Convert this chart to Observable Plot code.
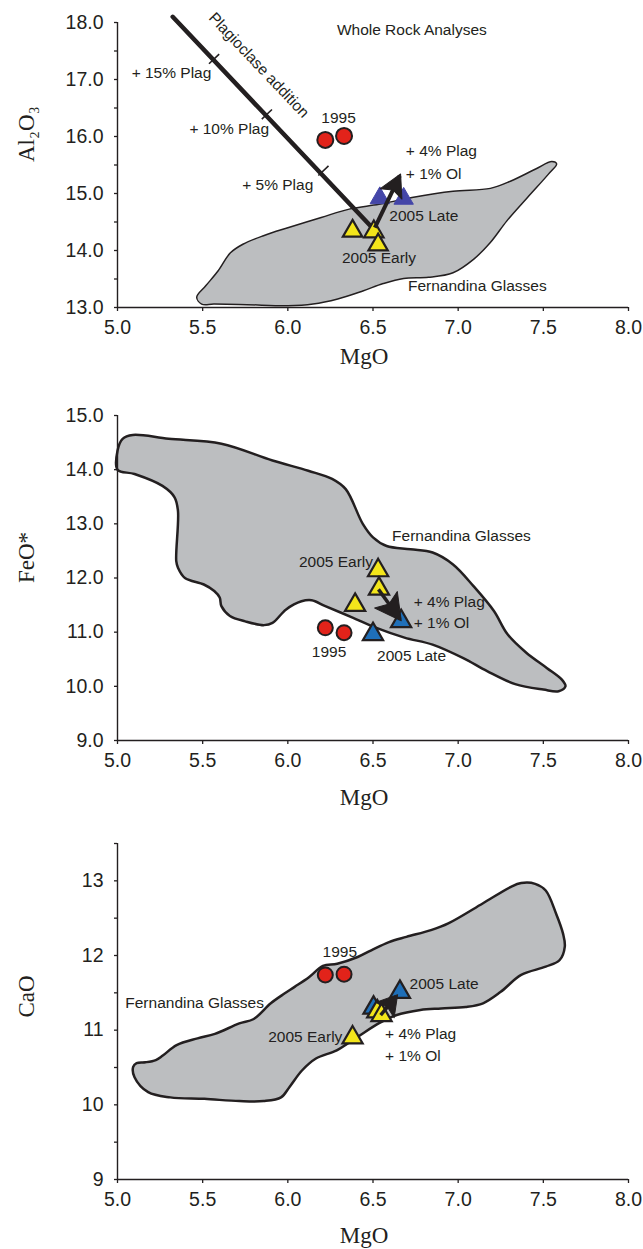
<!DOCTYPE html>
<html><head><meta charset="utf-8">
<script src="https://cdn.jsdelivr.net/npm/d3@7"></script>
<script src="https://cdn.jsdelivr.net/npm/@observablehq/plot@0.6"></script>
<style>
  html,body{margin:0;padding:0;background:#fff}
  #chart svg{display:block}
</style>
</head><body><div id="chart"></div>
<script>
// ---------- data ----------
const mgoTicks = [5.0, 5.5, 6.0, 6.5, 7.0, 7.5, 8.0];
const al2o3Ticks = [13, 13.5, 14, 14.5, 15, 15.5, 16, 16.5, 17, 17.5, 18];
const feoTicks = [9, 10, 11, 12, 13, 14, 15];
const caoTicks = [9, 9.5, 10, 10.5, 11, 11.5, 12, 12.5, 13, 13.5];

// 1995 whole rock (red circles)
const mgo1995 = [6.22, 6.33];
const al1995 = [15.94, 16.01];
const feo1995 = [11.08, 10.99];
const cao1995 = [11.74, 11.75];

// 2005 Early (yellow triangles)
const mgoEarlyAl = [6.38, 6.505, 6.53];
const alEarly = [14.34, 14.33, 14.10];
const mgoEarlyFe = [6.395, 6.53, 6.535];
const feoEarly = [11.50, 12.14, 11.80];
const mgoEarlyCa = [6.38, 6.525, 6.55];
const caoEarly = [10.90, 11.25, 11.20];

// 2005 Late (blue triangles)
const mgoLateAl = [6.54, 6.68];
const alLate = [14.92, 14.91];
const mgoLateFe = [6.50, 6.665];
const feoLate = [10.96, 11.20];
const mgoLateCa = [6.503, 6.658];
const caoLate = [11.30, 11.51];

// "+4% Plag +1% Ol" vectors: [mgo start, oxide start, mgo end, oxide end]
const vecAl = [6.511, 14.40, 6.657, 15.31];
const vecFe = [6.532, 11.79, 6.659, 11.24];
const vecCa = [6.545, 11.20, 6.637, 11.455];

// Plagioclase addition line and its 5/10/15% marks
const plagLine = [[5.324, 18.10], [6.511, 14.35]];
const plagMarks = [[5.567, 17.36], [5.877, 16.39], [6.209, 15.40]];

// Fernandina glasses fields
const glassAl = [[5.494,13.06],[5.465,13.18],[5.518,13.38],[5.59,13.64],[5.663,13.96],[5.736,14.11],[5.857,14.26],[6.00,14.40],[6.196,14.58],[6.366,14.73],[6.535,14.81],[6.729,14.93],[6.97,15.04],[7.189,15.09],[7.31,15.22],[7.455,15.43],[7.55,15.56],[7.578,15.52],[7.53,15.34],[7.407,14.93],[7.286,14.52],[7.189,14.14],[7.092,13.85],[6.97,13.61],[6.826,13.53],[6.68,13.51],[6.56,13.42],[6.44,13.29],[6.293,13.15],[6.148,13.06],[6.0,13.03],[5.76,13.05],[5.567,13.06]];
const glassFe = [[5.0,14.0],[5.10,13.92],[5.264,13.70],[5.335,13.49],[5.355,13.24],[5.345,12.31],[5.355,12.19],[5.396,12.0],[5.507,11.88],[5.568,11.76],[5.60,11.64],[5.61,11.48],[5.66,11.30],[5.75,11.20],[5.86,11.13],[5.91,11.17],[5.99,11.42],[6.08,11.57],[6.14,11.59],[6.22,11.48],[6.38,11.27],[6.52,11.08],[6.685,10.90],[6.85,10.77],[7.03,10.52],[7.17,10.28],[7.335,10.04],[7.50,9.94],[7.59,9.91],[7.63,10.0],[7.61,10.12],[7.52,10.34],[7.40,10.62],[7.29,10.96],[7.21,11.39],[7.09,11.85],[6.97,12.25],[6.85,12.47],[6.72,12.53],[6.58,12.59],[6.50,12.75],[6.44,13.0],[6.34,13.64],[6.26,13.83],[6.12,13.98],[5.91,14.17],[5.61,14.48],[5.30,14.57],[5.09,14.64],[5.03,14.57],[5.0,14.35]];
const glassCa = [[5.092,10.51],[5.10,10.37],[5.18,10.17],[5.31,10.10],[5.51,10.08],[5.715,10.05],[5.858,10.05],[5.96,10.10],[6.01,10.24],[6.083,10.46],[6.165,10.62],[6.287,10.73],[6.41,10.91],[6.533,11.09],[6.635,11.20],[6.778,11.27],[6.90,11.29],[7.044,11.31],[7.146,11.36],[7.248,11.51],[7.37,11.74],[7.514,11.85],[7.596,11.94],[7.626,12.12],[7.616,12.29],[7.575,12.56],[7.514,12.87],[7.452,12.96],[7.37,12.97],[7.31,12.92],[7.146,12.70],[6.942,12.43],[6.84,12.34],[6.696,12.25],[6.594,12.18],[6.49,12.07],[6.41,11.98],[6.29,11.89],[6.206,11.86],[6.124,11.71],[6.04,11.58],[5.98,11.49],[5.90,11.36],[5.80,11.15],[5.715,11.09],[5.572,10.95],[5.47,10.89],[5.347,10.80],[5.266,10.66],[5.225,10.60],[5.164,10.57],[5.112,10.56]];

// annotations: [text, mgo, oxide, anchor]
const notesAl = [
  ["Whole Rock Analyses", 6.728, 17.87, "middle"],
  ["+ 15% Plag", 5.083, 17.12, "start"],
  ["+ 10% Plag", 5.422, 16.13, "start"],
  ["+ 5% Plag", 5.732, 15.14, "start"],
  ["1995", 6.298, 16.32, "middle"],
  ["+ 4% Plag", 6.693, 15.74, "start"],
  ["+ 1% Ol", 6.693, 15.35, "start"],
  ["2005 Late", 6.596, 14.61, "start"],
  ["2005 Early", 6.535, 13.86, "middle"],
  ["Fernandina Glasses", 6.705, 13.37, "start"]
];
const notesFe = [
  ["Fernandina Glasses", 6.612, 12.77, "start"],
  ["2005 Early", 6.50, 12.30, "end"],
  ["+ 4% Plag", 6.739, 11.56, "start"],
  ["+ 1% Ol", 6.739, 11.17, "start"],
  ["1995", 6.242, 10.64, "middle"],
  ["2005 Late", 6.524, 10.56, "start"]
];
const notesCa = [
  ["1995", 6.305, 12.05, "middle"],
  ["Fernandina Glasses", 5.86, 11.36, "end"],
  ["2005 Late", 6.715, 11.615, "start"],
  ["2005 Early", 6.32, 10.91, "end"],
  ["+ 4% Plag", 6.571, 10.945, "start"],
  ["+ 1% Ol", 6.571, 10.65, "start"]
];

// ---------- drawing ----------
const ink = "#231f20";
const sans = "'Liberation Sans', Arial, Helvetica, sans-serif";
const serif = "'Liberation Serif', 'Times New Roman', 'DejaVu Serif', serif";
const gray = "#bcbec0", red = "#e2231a", yellow = "#f3e51b", blue = "#1f6fb8", violet = "#4446a8";
const W = 643, mL = 117, mR = 15;
const kx = (W - mL - mR) / 3;

function dart(len, half) {
  return (color, context) => {
    const doc = (context && context.document) || document;
    const ns = "http://www.w3.org/2000/svg";
    const m = doc.createElementNS(ns, "marker");
    m.setAttribute("viewBox", `${-len} ${-half} ${len + 2} ${2 * half}`);
    m.setAttribute("markerUnits", "userSpaceOnUse");
    m.setAttribute("markerWidth", len + 2);
    m.setAttribute("markerHeight", 2 * half);
    m.setAttribute("refX", -2);
    m.setAttribute("refY", 0);
    m.setAttribute("orient", "auto");
    m.setAttribute("overflow", "visible");
    const p = doc.createElementNS(ns, "path");
    p.setAttribute("d", `M0,0L${-len},${-half}L${-0.8 * len},0L${-len},${half}Z`);
    p.setAttribute("fill", ink);
    p.setAttribute("stroke", ink);
    p.setAttribute("stroke-width", 1);
    p.setAttribute("stroke-linejoin", "round");
    m.appendChild(p);
    return m;
  };
}

const zip = (xs, ys) => xs.map((x, i) => ({x, y: ys[i]}));
const pts = (arr) => arr.map(([x, y]) => ({x, y}));

function notes(list, size = 15.5) {
  const rows = list.map(([label, x, y, anchor]) => ({label, x, y, anchor}));
  return ["start", "middle", "end"].map(a =>
    Plot.text(rows.filter(r => r.anchor === a), {
      x: "x", y: "y", text: "label", textAnchor: a, lineAnchor: "middle",
      fontFamily: sans, fontSize: size, fill: ink
    }));
}

function vector(v, len, half, sw) {
  return Plot.link([{x1: v[0], y1: v[1], x2: v[2], y2: v[3]}], {
    x1: "x1", y1: "y1", x2: "x2", y2: "y2",
    stroke: ink, strokeWidth: sw, strokeLinecap: "butt", markerEnd: dart(len, half)
  });
}

function panel({height, marginTop, marginBottom, yDomain, yTicks, yFormat, yTitle, titleDy, xTitleDy, marks}) {
  return Plot.plot({
    width: W, height, marginLeft: mL, marginRight: mR, marginTop, marginBottom,
    style: {fontFamily: sans, fontSize: "19.5px", color: ink, background: "#fff", overflow: "visible"},
    x: {domain: [5, 8]},
    y: {domain: yDomain},
    marks: [
      ...marks,
      Plot.ruleX([5], {y1: yDomain[0], y2: yDomain[1], stroke: ink, strokeWidth: 1.4}),
      Plot.ruleY([yDomain[0]], {x1: 5, x2: 8, stroke: ink, strokeWidth: 1.4}),
      Plot.axisX({ticks: mgoTicks, tickFormat: d => d.toFixed(1), tickSize: 4, tickPadding: 9, label: null, stroke: ink, strokeWidth: 1.3}),
      Plot.axisY({ticks: yTicks, tickFormat: yFormat, tickSize: 3, tickPadding: 11, label: null, stroke: ink, strokeWidth: 1.3}),
      Plot.text(["MgO"], {text: d => d, frameAnchor: "bottom", dy: xTitleDy, dx: -9, lineAnchor: "bottom", fontFamily: serif, fontSize: 23, fill: ink}),
      Plot.text([yTitle], {text: d => d, frameAnchor: "left", dx: -84, dy: titleDy, rotate: -90, lineAnchor: "bottom", fontFamily: serif, fontSize: 23, fill: ink})
    ]
  });
}

// panel 1: Al2O3
const H1 = 365, mT1 = 22, mB1 = 58;
const ky1 = (H1 - mT1 - mB1) / 5;
const lpx = (plagLine[1][0] - plagLine[0][0]) * kx;
const lpy = (plagLine[0][1] - plagLine[1][1]) * ky1;
const lLen = Math.hypot(lpx, lpy);
const ux = lpy / lLen, uy = -lpx / lLen; // perpendicular in screen (y down)
const plagAngle = Math.atan2(lpy, lpx) * 180 / Math.PI;
const tickHalf = 7;
const plagTickRows = plagMarks.map(([x, y]) => ({
  x1: x - ux * tickHalf / kx, y1: y + uy * tickHalf / ky1,
  x2: x + ux * tickHalf / kx, y2: y - uy * tickHalf / ky1
}));
const plagLabel = [{label: "Plagioclase addition", x: 5.83, y: 17.25}];

const p1 = panel({
  height: H1, marginTop: mT1, marginBottom: mB1,
  yDomain: [13, 18], yTicks: al2o3Ticks,
  yFormat: d => Number.isInteger(d) ? d.toFixed(1) : "",
  yTitle: "Al\u2082O\u2083", titleDy: -3, xTitleDy: 56,
  marks: [
    Plot.line(pts(glassAl), {x: "x", y: "y", curve: "catmull-rom-closed", fill: gray, stroke: ink, strokeWidth: 1.5}),
    Plot.line(pts(plagLine), {x: "x", y: "y", stroke: ink, strokeWidth: 4.5}),
    Plot.link(plagTickRows, {x1: "x1", y1: "y1", x2: "x2", y2: "y2", stroke: ink, strokeWidth: 1.6}),
    Plot.text(plagLabel, {x: "x", y: "y", text: "label", rotate: plagAngle, fontFamily: sans, fontSize: 15.5, fill: ink}),
    Plot.dot(zip(mgo1995, al1995), {x: "x", y: "y", r: 8, fill: red, stroke: ink, strokeWidth: 2}),
    Plot.dot(zip(mgoLateAl, alLate), {x: "x", y: "y", symbol: "triangle", r: 7.2, fill: violet, stroke: violet, strokeWidth: 1}),
    Plot.dot(zip(mgoEarlyAl, alEarly), {x: "x", y: "y", symbol: "triangle", r: 7.2, fill: yellow, stroke: ink, strokeWidth: 2.2}),
    vector(vecAl, 22, 12, 4),
    ...notes(notesAl)
  ]
});

// panel 2: FeO*
const p2 = panel({
  height: 455, marginTop: 50, marginBottom: 80,
  yDomain: [9, 15], yTicks: feoTicks,
  yFormat: d => d.toFixed(1),
  yTitle: "FeO*", titleDy: 5, xTitleDy: 64,
  marks: [
    Plot.line(pts(glassFe), {x: "x", y: "y", curve: "catmull-rom-closed", fill: gray, stroke: ink, strokeWidth: 2.5}),
    Plot.dot(zip(mgo1995, feo1995), {x: "x", y: "y", r: 7.5, fill: red, stroke: ink, strokeWidth: 2}),
    Plot.dot(zip(mgoEarlyFe, feoEarly), {x: "x", y: "y", symbol: "triangle", r: 7.5, fill: yellow, stroke: ink, strokeWidth: 2.2}),
    Plot.dot(zip(mgoLateFe, feoLate), {x: "x", y: "y", symbol: "triangle", r: 7.5, fill: blue, stroke: ink, strokeWidth: 2.2}),
    vector(vecFe, 26, 14, 3.5),
    ...notes(notesFe)
  ]
});

// panel 3: CaO
const p3 = panel({
  height: 429, marginTop: 23, marginBottom: 70,
  yDomain: [9, 13.5], yTicks: caoTicks,
  yFormat: d => Number.isInteger(d) ? String(d) : "",
  yTitle: "CaO", titleDy: 6, xTitleDy: 63,
  marks: [
    Plot.line(pts(glassCa), {x: "x", y: "y", curve: "catmull-rom-closed", fill: gray, stroke: ink, strokeWidth: 2.5}),
    Plot.dot(zip(mgo1995, cao1995), {x: "x", y: "y", r: 7.5, fill: red, stroke: ink, strokeWidth: 2}),
    Plot.dot(zip(mgoLateCa, caoLate), {x: "x", y: "y", symbol: "triangle", r: 7.5, fill: blue, stroke: ink, strokeWidth: 2.2}),
    Plot.dot(zip(mgoEarlyCa, caoEarly), {x: "x", y: "y", symbol: "triangle", r: 7.5, fill: yellow, stroke: ink, strokeWidth: 2.2}),
    vector(vecCa, 20, 12, 3.5),
    ...notes(notesCa)
  ]
});

const root = document.getElementById("chart");
root.append(p1, p2, p3);
</script>
</body></html>
